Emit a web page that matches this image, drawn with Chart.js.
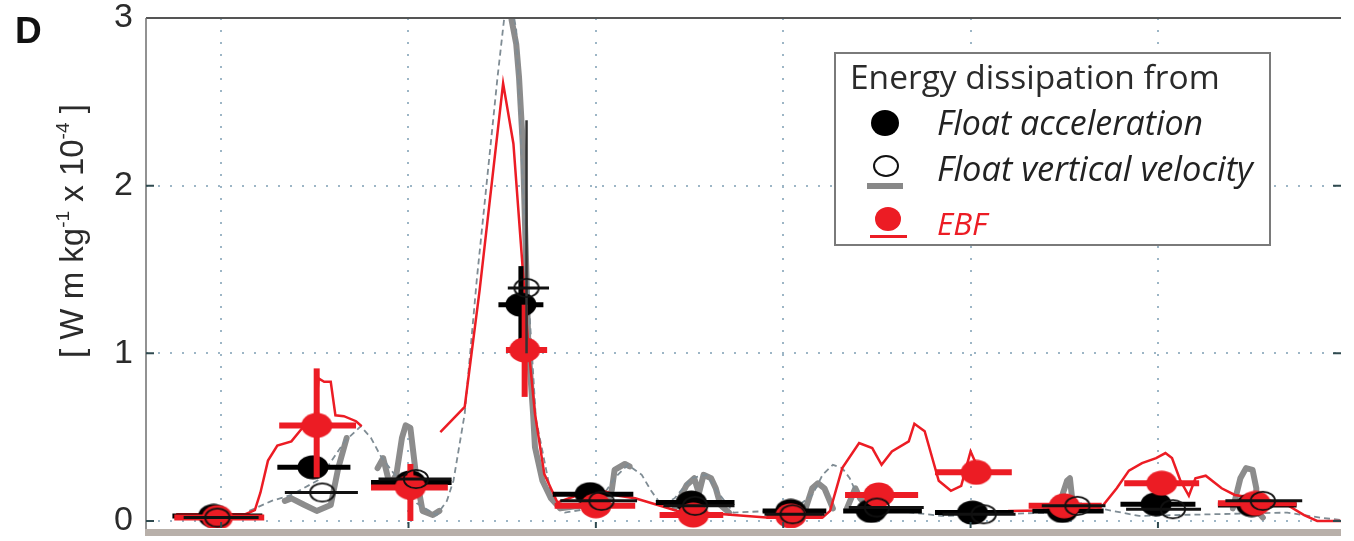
<!DOCTYPE html>
<html>
<head>
<meta charset="utf-8">
<title>Energy dissipation</title>
<script src="https://cdn.jsdelivr.net/npm/chart.js@4.4.1/dist/chart.umd.min.js"></script>
<style>
  html, body { margin: 0; padding: 0; background: #fff; }
  #wrap { position: relative; width: 1354px; height: 541px; }
</style>
</head>
<body>
<div id="wrap"><canvas id="chart" width="1354" height="541"></canvas></div>
<script>
// Axis ranges and tick positions
const xMin = -0.401;
const xMax = 5.977;
const yMin = -0.042;
const yMax = 3;
const xGrid = [0, 1, 2, 3, 4, 5];
const yTicks = [0, 1, 2, 3];

// Float acceleration (filled black) - 12 profiles
const accX   = [-0.04, 0.49, 1.01, 1.60, 1.97, 2.51, 3.04, 3.47, 4.01, 4.49, 4.99, 5.50];
const accY   = [0.03, 0.32, 0.23, 1.29, 0.16, 0.11, 0.06, 0.06, 0.05, 0.06, 0.10, 0.095];
const accXLo = [-0.26, 0.30, 0.80, 1.48, 1.77, 2.32, 2.89, 3.32, 3.81, 4.33, 4.80, 5.32];
const accXHi = [0.22, 0.69, 1.23, 1.72, 2.20, 2.74, 3.23, 3.74, 4.23, 4.71, 5.20, 5.74];
const accYLo = [null, null, null, 1.04, null, null, null, null, null, null, null, null];
const accYHi = [null, null, null, 1.52, null, null, null, null, null, null, null, null];

// Float vertical velocity (open circles)
const velX   = [-0.02, 0.54, 1.04, 1.63, 2.03, 2.53, 3.05, 3.50, 4.07, 4.57, 5.08, 5.56];
const velY   = [0.02, 0.17, 0.25, 1.39, 0.12, 0.09, 0.04, 0.08, 0.04, 0.09, 0.07, 0.12];
const velXLo = [-0.20, 0.34, 0.84, 1.53, 1.81, 2.36, 2.90, 3.35, 3.85, 4.38, 4.83, 5.36];
const velXHi = [0.20, 0.73, 1.23, 1.75, 2.22, 2.74, 3.22, 3.75, 4.24, 4.72, 5.23, 5.77];
const velYLo = [null, null, null, 1.00, null, null, null, null, null, null, null, null];
const velYHi = [null, null, null, 2.39, null, null, null, null, null, null, null, null];

// EBF (red)
const ebfX   = [-0.02, 0.51, 1.01, 1.62, 2.00, 2.52, 3.04, 3.51, 4.03, 4.50, 5.02, 5.52];
const ebfY   = [0.02, 0.57, 0.20, 1.02, 0.09, 0.035, 0.03, 0.155, 0.29, 0.09, 0.225, 0.105];
const ebfXLo = [-0.25, 0.31, 0.80, 1.52, 1.78, 2.34, 2.91, 3.33, 3.81, 4.31, 4.82, 5.32];
const ebfXHi = [0.23, 0.72, 1.21, 1.74, 2.21, 2.68, 3.21, 3.72, 4.22, 4.70, 5.22, 5.74];
const ebfYLo = [null, 0.26, 0.00, 0.74, null, null, null, null, null, null, null, null];
const ebfYHi = [null, 0.91, 0.34, 1.29, null, null, null, null, null, null, null, null];

// EBF continuous record (null = gap)
const ebfLineX = [-0.24, 0.13, 0.18, 0.21, 0.25, 0.30, 0.375, 0.43, 0.50, 0.52, 0.55, 0.585, 0.61, 0.655, 0.72, 0.75, null,
  1.17, 1.30, 1.38, 1.505, 1.56, 1.60, 1.64, 1.675, 1.725, 1.795, 1.905, 1.995, 2.12, 2.21, 2.33, 2.435, 2.56, 2.735, 2.91,
  3.21, 3.25, 3.315, 3.405, 3.475, 3.525, 3.58, 3.67, 3.70, 3.755, 3.83, 3.895, 3.95, 4.00, 4.04, null,
  4.20, 4.545, 4.705, 4.78, 4.845, 4.915, 4.99, 5.04, 5.075, 5.12, 5.165, 5.20, 5.255, 5.34, 5.41, 5.52, 5.60, 5.69, 5.78, 5.85, 5.98];
const ebfLineY = [0.04, 0.04, 0.065, 0.17, 0.36, 0.45, 0.475, 0.55, 0.58, 0.85, 0.83, 0.83, 0.63, 0.625, 0.595, 0.565, null,
  0.53, 0.68, 1.38, 2.61, 2.25, 1.65, 1.04, 0.64, 0.28, 0.11, 0.155, 0.195, 0.15, 0.135, 0.095, 0.06, 0.05, 0.035, 0.02,
  0.02, 0.06, 0.315, 0.465, 0.435, 0.335, 0.415, 0.475, 0.58, 0.535, 0.24, 0.18, 0.21, 0.415, 0.315, null,
  0.06, 0.065, 0.09, 0.195, 0.30, 0.345, 0.375, 0.405, 0.375, 0.24, 0.15, 0.255, 0.27, 0.195, 0.155, 0.135, 0.12, 0.095, 0.035, 0.0, 0.0];

// Dashed grey reference curve
const modelX = [0.15, 0.27, 0.375, 0.52, 0.66, 0.745, 0.80, 0.85, 0.94, 1.045, 1.15, 1.205, 1.24, 1.30, 1.365, 1.42, 1.475, 1.51, 1.54,
  1.575, 1.625, 1.68, 1.76, 1.835, 1.995, 2.10, 2.17, 2.245, 2.295, 2.35, 2.42, 2.51, 2.59, 2.655, 2.735, 3.05, 3.155, 3.21,
  3.265, 3.315, 3.355, 3.385, 3.45, 3.845, 4.425, 4.53, 4.61, 4.69, 4.90, 5.69, 5.865, 5.98];
const modelY = [0.06, 0.12, 0.155, 0.245, 0.475, 0.565, 0.495, 0.39, 0.255, 0.105, 0.035, 0.12, 0.24, 0.64, 1.445, 2.045, 2.645, 2.99, 3.15,
  2.93, 1.62, 0.61, 0.165, 0.05, 0.08, 0.255, 0.335, 0.275, 0.18, 0.095, 0.135, 0.255, 0.275, 0.165, 0.05, 0.065, 0.155, 0.275,
  0.335, 0.315, 0.255, 0.18, 0.08, 0.03, 0.05, 0.105, 0.105, 0.075, 0.03, 0.05, 0.02, 0.005];

// Float vertical velocity continuous record (thick grey, null = gap)
const velLineX = [0.34, 0.375, 0.445, 0.51, 0.585, 0.625, 0.67, null,
  0.835, 0.865, 0.90, 0.935, 0.965, 0.985, 1.01, 1.04, 1.075, 1.13, 1.165, null,
  1.545, 1.55, 1.575, 1.59, 1.61, 1.625, 1.64, 1.665, 1.675, 1.715, 1.76, 1.81, 1.945, 2.05, 2.085, 2.10, 2.155, 2.18, null,
  2.42, 2.485, 2.525, 2.55, 2.575, 2.615, 2.64, 2.665, 2.71, null,
  3.05, 3.12, 3.155, 3.185, 3.22, 3.265, null,
  3.34, 3.385, 3.41, 3.475, null,
  4.40, 4.475, 4.515, 4.53, 4.545, 4.585, null,
  5.40, 5.44, 5.47, 5.505, 5.525, 5.525, 5.56];
const velLineY = [0.12, 0.135, 0.095, 0.06, 0.095, 0.315, 0.495, null,
  0.315, 0.375, 0.215, 0.275, 0.495, 0.57, 0.555, 0.275, 0.06, 0.035, 0.06, null,
  3.1, 2.99, 2.845, 2.645, 2.245, 1.645, 1.04, 0.64, 0.44, 0.24, 0.135, 0.075, 0.095, 0.075, 0.185, 0.305, 0.34, 0.325, null,
  0.075, 0.215, 0.255, 0.165, 0.275, 0.255, 0.195, 0.095, 0.05, null,
  0.05, 0.075, 0.195, 0.225, 0.195, 0.075, null,
  0.075, 0.195, 0.135, 0.05, null,
  0.065, 0.105, 0.24, 0.255, 0.105, 0.065, null,
  0.075, 0.255, 0.315, 0.305, 0.195, 0.065, 0.02];

const RED = '#ec1c24';
const gridColor = '#9db6c6';

function pts(xs, ys) {
  return xs.map((x, i) => ({ x: x, y: ys[i] }));
}

// Elliptical marker images (the figure is stretched horizontally)
function makeEllipse(w, h, fill, stroke, lw) {
  const c = document.createElement('canvas');
  c.width = w;
  c.height = h;
  const g = c.getContext('2d');
  const m = stroke ? lw : 0.5;
  g.beginPath();
  g.ellipse(w / 2, h / 2, w / 2 - m, h / 2 - m, 0, 0, Math.PI * 2);
  if (fill) { g.fillStyle = fill; g.fill(); }
  if (stroke) { g.lineWidth = lw; g.strokeStyle = stroke; g.stroke(); }
  return c;
}

const blackMark = makeEllipse(32, 25, '#000', null, 0);
const redMark = makeEllipse(32, 26, RED, null, 0);
const openMark = makeEllipse(28, 22, null, '#111', 1.8);

// Error bars drawn just before each marker dataset
const errorBarPlugin = {
  id: 'errorBars',
  beforeDatasetDraw(chart, args) {
    const ds = chart.data.datasets[args.index];
    const eb = ds.errorBars;
    if (!eb) return;
    const { x, y } = chart.scales;
    const ctx = chart.ctx;
    const area = chart.chartArea;
    ctx.save();
    ctx.beginPath();
    ctx.rect(area.left, area.top, area.right - area.left, area.bottom - area.top);
    ctx.clip();
    ds.data.forEach((p, i) => {
      const px = x.getPixelForValue(p.x);
      const py = y.getPixelForValue(p.y);
      if (eb.yLo[i] != null) {
        ctx.lineWidth = eb.vWidth;
        ctx.strokeStyle = eb.vColor || eb.color;
        ctx.beginPath();
        ctx.moveTo(px, y.getPixelForValue(eb.yLo[i]));
        ctx.lineTo(px, y.getPixelForValue(eb.yHi[i]));
        ctx.stroke();
      }
      ctx.lineWidth = eb.hWidth;
      ctx.strokeStyle = eb.color;
      ctx.beginPath();
      ctx.moveTo(x.getPixelForValue(eb.xLo[i]), py);
      ctx.lineTo(x.getPixelForValue(eb.xHi[i]), py);
      ctx.stroke();
    });
    ctx.restore();
  }
};

// Frame, panel letter, axis title and legend box
const framePlugin = {
  id: 'frame',
  afterDraw(chart) {
    const ctx = chart.ctx;
    const a = chart.chartArea;
    const yS = chart.scales.y;
    const xS = chart.scales.x;
    ctx.save();

    // bottom band
    ctx.fillStyle = '#b8b0aa';
    ctx.fillRect(a.left - 1, a.bottom + 1, a.right - a.left + 1, 7);
    // top and left border
    ctx.strokeStyle = '#555';
    ctx.lineWidth = 2;
    ctx.beginPath();
    ctx.moveTo(a.left, a.top);
    ctx.lineTo(a.right, a.top);
    ctx.stroke();
    ctx.strokeStyle = '#6e6e6e';
    ctx.lineWidth = 1.5;
    ctx.beginPath();
    ctx.moveTo(a.left, a.top);
    ctx.lineTo(a.left, a.bottom + 1);
    ctx.stroke();

    // inward tick marks
    ctx.strokeStyle = '#2f4a4f';
    ctx.lineWidth = 2;
    yTicks.slice(0, 3).forEach(v => {
      const py = yS.getPixelForValue(v);
      ctx.beginPath();
      ctx.moveTo(a.left, py);
      ctx.lineTo(a.left + 8, py);
      ctx.moveTo(a.right, py);
      ctx.lineTo(a.right - 8, py);
      ctx.stroke();
    });
    xGrid.forEach(v => {
      const px = xS.getPixelForValue(v);
      ctx.beginPath();
      ctx.moveTo(px, a.bottom);
      ctx.lineTo(px, a.bottom - 6);
      ctx.stroke();
    });

    // panel letter
    ctx.fillStyle = '#111';
    ctx.font = 'bold 37px "Liberation Sans", Arial, sans-serif';
    ctx.textBaseline = 'alphabetic';
    ctx.textAlign = 'left';
    ctx.fillText('D', 15, 43);

    // y axis title with superscripts
    ctx.save();
    ctx.translate(83, 358);
    ctx.rotate(-Math.PI / 2);
    ctx.fillStyle = '#2b2b2b';
    const big = '33px "Liberation Sans", Arial, sans-serif';
    const small = '19px "Liberation Sans", Arial, sans-serif';
    const parts = [['[ W m kg', big, 0], ['-1', small, -14], [' x 10', big, 0], ['-4', small, -14], [' ]', big, 0]];
    let cx = 0;
    parts.forEach(([t, f, dy]) => {
      ctx.font = f;
      ctx.fillText(t, cx, dy);
      cx += ctx.measureText(t).width;
    });
    ctx.restore();

    // legend box
    ctx.fillStyle = '#fff';
    ctx.fillRect(835, 53, 435, 192);
    ctx.strokeStyle = '#7a7a7a';
    ctx.lineWidth = 2;
    ctx.strokeRect(835, 53, 435, 192);

    function fitText(text, x, y, width, style, color) {
      ctx.font = style + ' 28px "Open Sans", "Noto Sans", sans-serif';
      const w = ctx.measureText(text).width;
      const size = 28 * width / w;
      ctx.font = style + ' ' + size.toFixed(1) + 'px "Open Sans", "Noto Sans", sans-serif';
      ctx.fillStyle = color;
      ctx.fillText(text, x, y);
    }
    fitText('Energy dissipation from', 850, 89, 370, 'normal', '#2a2a2a');
    fitText('Float acceleration', 937, 135, 266, 'italic', '#222');
    fitText('Float vertical velocity', 937, 181, 316, 'italic', '#222');
    fitText('EBF', 937, 235, 50, 'italic', RED);

    // legend symbols
    ctx.fillStyle = '#000';
    ctx.beginPath();
    ctx.ellipse(885, 123, 14, 13, 0, 0, Math.PI * 2);
    ctx.fill();
    ctx.strokeStyle = '#111';
    ctx.lineWidth = 2;
    ctx.beginPath();
    ctx.ellipse(886, 166, 12, 10, 0, 0, Math.PI * 2);
    ctx.stroke();
    ctx.fillStyle = '#888';
    ctx.fillRect(867, 183, 36, 6);
    ctx.fillStyle = RED;
    ctx.beginPath();
    ctx.ellipse(888, 219, 13, 12, 0, 0, Math.PI * 2);
    ctx.fill();
    ctx.fillRect(870, 235, 37, 3);

    ctx.restore();
  }
};

const ctx = document.getElementById('chart').getContext('2d');

new Chart(ctx, {
  type: 'scatter',
  data: {
    datasets: [
      {
        label: 'Float vertical velocity',
        data: pts(velX, velY),
        pointStyle: openMark,
        pointRadius: 12,
        showLine: false,
        errorBars: { color: '#111', vColor: '#333', hWidth: 3, vWidth: 2.5, xLo: velXLo, xHi: velXHi, yLo: velYLo, yHi: velYHi }
      },
      {
        label: 'EBF',
        data: pts(ebfX, ebfY),
        pointStyle: redMark,
        pointRadius: 12,
        showLine: false,
        errorBars: { color: RED, hWidth: 6, vWidth: 6, xLo: ebfXLo, xHi: ebfXHi, yLo: ebfYLo, yHi: ebfYHi }
      },
      {
        label: 'Float acceleration',
        data: pts(accX, accY),
        pointStyle: blackMark,
        pointRadius: 12,
        showLine: false,
        errorBars: { color: '#000', hWidth: 5, vWidth: 5, xLo: accXLo, xHi: accXHi, yLo: accYLo, yHi: accYHi }
      },
      {
        label: 'EBF record',
        data: pts(ebfLineX, ebfLineY),
        showLine: true,
        pointRadius: 0,
        borderColor: RED,
        borderWidth: 2.5,
        spanGaps: false
      },
      {
        label: 'Reference',
        data: pts(modelX, modelY),
        showLine: true,
        pointRadius: 0,
        borderColor: '#7f8c94',
        borderWidth: 1.8,
        borderDash: [6, 4]
      },
      {
        label: 'Float vertical velocity record',
        data: pts(velLineX, velLineY),
        showLine: true,
        pointRadius: 0,
        borderColor: '#8c8c8c',
        borderWidth: 6,
        borderJoinStyle: 'round',
        borderCapStyle: 'round',
        spanGaps: false
      }
    ]
  },
  options: {
    responsive: false,
    animation: false,
    layout: { padding: { top: 18, right: 0, bottom: 11, left: 0 } },
    plugins: {
      legend: { display: false },
      tooltip: { enabled: false }
    },
    scales: {
      x: {
        type: 'linear',
        min: xMin,
        max: xMax,
        afterBuildTicks: scale => { scale.ticks = xGrid.map(v => ({ value: v })); },
        ticks: { display: false },
        grid: { color: gridColor, lineWidth: 2, drawTicks: false },
        border: { display: false, dash: [2, 10] }
      },
      y: {
        type: 'linear',
        min: yMin,
        max: yMax,
        afterBuildTicks: scale => { scale.ticks = yTicks.map(v => ({ value: v })); },
        afterFit: scale => {
          scale.width = 146;
          // let the first and last labels overhang the plot box
          scale.paddingTop = 0;
          scale.paddingBottom = 0;
        },
        ticks: {
          font: { family: '"Liberation Sans", Arial, sans-serif', size: 34 },
          color: '#2b2b2b',
          padding: 13
        },
        grid: {
          color: c => (c.tick && c.tick.value === 3 ? 'rgba(0,0,0,0)' : gridColor),
          lineWidth: 2,
          drawTicks: false
        },
        border: { display: false, dash: [2, 10] }
      }
    }
  },
  plugins: [errorBarPlugin, framePlugin]
});
</script>
</body>
</html>
